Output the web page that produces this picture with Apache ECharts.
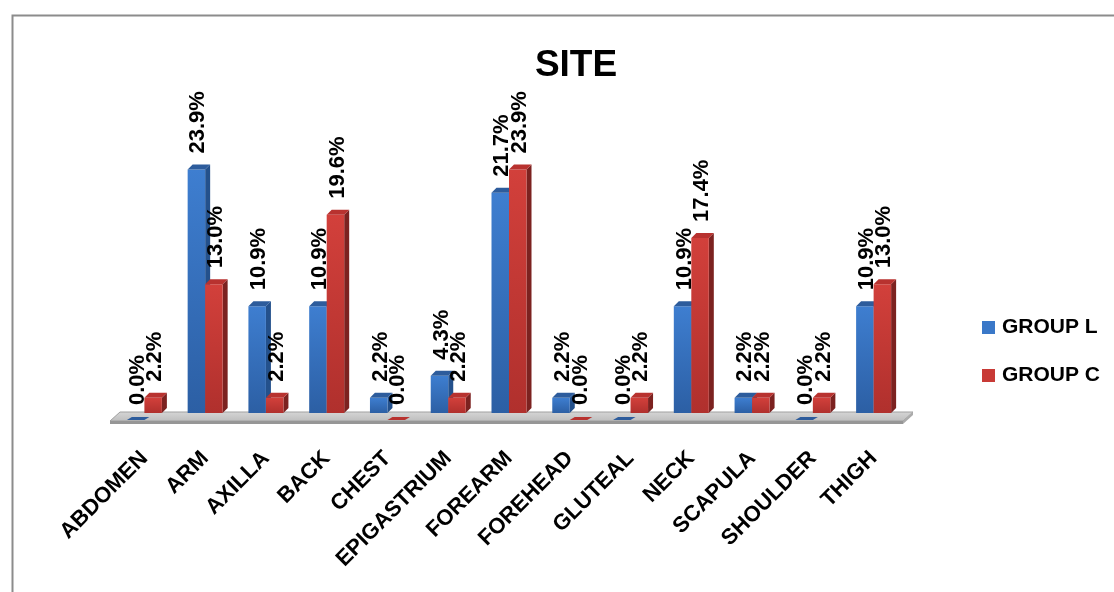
<!DOCTYPE html>
<html>
<head>
<meta charset="utf-8">
<title>SITE</title>
<script src="https://cdn.jsdelivr.net/npm/echarts@6/dist/echarts.min.js"></script>
<style>
  html, body { margin: 0; padding: 0; background: #ffffff; }
  #chart { width: 1114px; height: 592px; }
</style>
</head>
<body>
<div id="chart"></div>
<script>
// Site distribution by group (percent of patients)
const categories = ['ABDOMEN', 'ARM', 'AXILLA', 'BACK', 'CHEST', 'EPIGASTRIUM', 'FOREARM',
  'FOREHEAD', 'GLUTEAL', 'NECK', 'SCAPULA', 'SHOULDER', 'THIGH'];
const groupL = [0.0, 23.9, 10.9, 10.9, 2.2, 4.3, 21.7, 2.2, 0.0, 10.9, 2.2, 0.0, 10.9];
const groupC = [2.2, 13.0, 2.2, 19.6, 0.0, 2.2, 23.9, 0.0, 2.2, 17.4, 2.2, 2.2, 13.0];
const seriesNames = ['GROUP L', 'GROUP C'];

const FONT = '"Liberation Sans", Arial, sans-serif';

// Face colours for the pseudo-3D columns
const palettes = [
  { legend: '#3a78c8', frontTop: '#3e7ed0', frontBottom: '#2c5fa4', side: '#24518c', top: '#2d5c9c' },
  { legend: '#c83a36', frontTop: '#d2403b', frontBottom: '#b0302d', side: '#7c2220', top: '#b8322f' }
];

const DEPTH_X = 5, DEPTH_Y = 5;   // oblique depth of each column
const SINK = 8;                   // columns stand on the floor surface

function makeColumnRenderer(seriesIdx) {
  const pal = palettes[seriesIdx];
  return function (params, api) {
    const cat = api.value(0);
    const val = api.value(1);
    const base = api.coord([cat, 0]);
    const topPt = api.coord([cat, val]);
    const band = api.size([1, 0])[0];
    const w = band * 0.288;
    const cx = base[0];
    const x0 = seriesIdx === 0 ? cx - w : cx;
    const x1 = x0 + w;
    const yTop = topPt[1];
    const yFloor = base[1] - SINK;
    const children = [];

    if (yTop < yFloor) {
      // right side face
      children.push({
        type: 'polygon',
        shape: { points: [[x1, yTop], [x1 + DEPTH_X, yTop - DEPTH_Y], [x1 + DEPTH_X, yFloor - DEPTH_Y], [x1, yFloor]] },
        style: { fill: pal.side }
      });
      // front face
      children.push({
        type: 'rect',
        shape: { x: x0, y: yTop, width: w, height: yFloor - yTop },
        style: {
          fill: new echarts.graphic.LinearGradient(0, 0, 0, 1, [
            { offset: 0, color: pal.frontTop },
            { offset: 1, color: pal.frontBottom }
          ])
        }
      });
    }
    // top face
    const yt = Math.min(yTop, base[1] - 1);
    const dy = yTop < yFloor ? DEPTH_Y : 3;
    children.push({
      type: 'polygon',
      shape: { points: [[x0, yt], [x0 + DEPTH_X, yt - dy], [x1 + DEPTH_X, yt - dy], [x1, yt]] },
      style: { fill: pal.top }
    });
    // value label, rotated to read upwards
    children.push({
      type: 'text',
      x: (x0 + x1) / 2 + 2,
      y: yTop - 16,
      rotation: Math.PI / 2,
      z2: 10,
      style: {
        x: 0, y: 0,
        text: val.toFixed(1) + '%',
        font: 'bold 22px ' + FONT,
        fill: '#000000',
        align: 'left',
        verticalAlign: 'middle'
      }
    });
    return { type: 'group', children: children };
  };
}

function renderFloor(params, api) {
  const cs = params.coordSys;
  const yFront = api.coord([0, 0])[1];
  const yBack = yFront - 9;
  const left = cs.x, right = cs.x + cs.width;
  return {
    type: 'group',
    children: [
      {
        type: 'polygon',
        shape: { points: [[left - 4, yFront], [left + 6, yBack], [right + 9, yBack], [right - 1, yFront]] },
        style: {
          fill: new echarts.graphic.LinearGradient(0, 0, 0, 1, [
            { offset: 0, color: '#d6d6d6' },
            { offset: 1, color: '#bdbdbd' }
          ]),
          stroke: '#a0a0a0', lineWidth: 1
        }
      },
      {
        type: 'polygon',
        shape: { points: [[left - 4, yFront], [right - 1, yFront], [right - 1, yFront + 3], [left - 4, yFront + 3]] },
        style: { fill: '#969696' }
      },
      {
        type: 'polygon',
        shape: { points: [[right - 1, yFront], [right + 9, yBack], [right + 9, yBack + 3], [right - 1, yFront + 3]] },
        style: { fill: '#ababab' }
      }
    ]
  };
}

const chart = echarts.init(document.getElementById('chart'), null, { renderer: 'canvas' });

chart.setOption({
  backgroundColor: '#ffffff',
  animation: false,
  title: {
    text: 'SITE',
    left: 571,
    textAlign: 'center',
    top: 42,
    textStyle: { fontFamily: FONT, fontWeight: 'bold', fontSize: 37, color: '#000000' }
  },
  legend: {
    data: seriesNames,
    orient: 'vertical',
    left: 977,
    top: 312,
    itemWidth: 13,
    itemHeight: 13,
    itemGap: 27,
    icon: 'rect',
    textStyle: { fontFamily: FONT, fontWeight: 'bold', fontSize: 21, color: '#000000', padding: [0, 0, 0, 2] }
  },
  grid: { left: 114, right: 210, top: 158, bottom: 171, containLabel: false },
  xAxis: {
    type: 'category',
    data: categories,
    boundaryGap: true,
    axisLine: { show: false },
    axisTick: { show: false },
    axisLabel: {
      interval: 0,
      rotate: 45,
      margin: 34,
      fontFamily: FONT,
      fontWeight: 'bold',
      fontSize: 22,
      color: '#000000'
    }
  },
  yAxis: {
    type: 'value',
    min: 0,
    max: 25,
    interval: 5,
    show: false,
    splitLine: { show: false }
  },
  graphic: [
    {
      type: 'rect',
      left: 10, top: 13,
      shape: { width: 1200, height: 700 },
      style: { fill: 'none', stroke: '#8c8c8c', lineWidth: 2 },
      silent: true
    }
  ],
  series: [
    {
      type: 'custom',
      name: 'floor',
      z: 1,
      silent: true,
      renderItem: renderFloor,
      data: [[0, 0]]
    },
    {
      type: 'custom',
      name: seriesNames[0],
      z: 2,
      itemStyle: { color: palettes[0].legend },
      renderItem: makeColumnRenderer(0),
      encode: { x: 0, y: 1 },
      data: groupL.map((v, i) => [i, v])
    },
    {
      type: 'custom',
      name: seriesNames[1],
      z: 3,
      itemStyle: { color: palettes[1].legend },
      renderItem: makeColumnRenderer(1),
      encode: { x: 0, y: 1 },
      data: groupC.map((v, i) => [i, v])
    }
  ]
});
</script>
</body>
</html>
